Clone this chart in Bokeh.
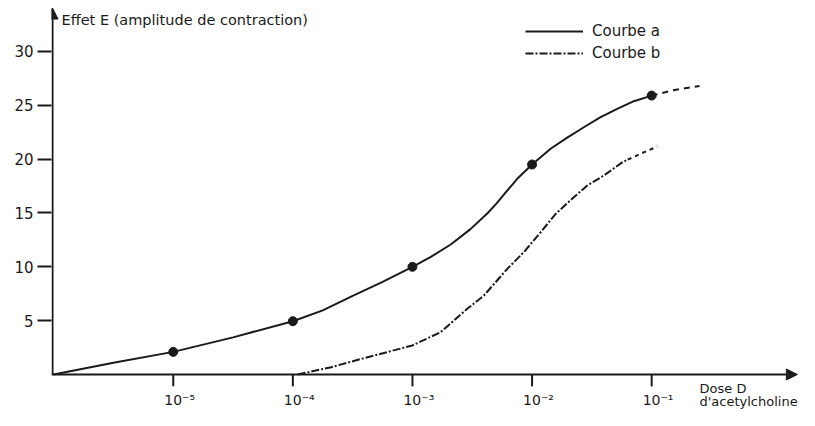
from bokeh.plotting import figure
from bokeh.models import Range1d, FixedTicker, Arrow, NormalHead, Label, Legend, LegendItem
from bokeh.core.properties import value
from bokeh.embed import file_html
from bokeh.resources import INLINE

# x = log10(dose)
a_x = [-6, -5.5, -5, -4.5, -4, -3.75, -3.5, -3.25, -3, -2.85, -2.68, -2.515, -2.375, -2.3, -2.236, -2.124, -2,
       -1.845, -1.706, -1.567, -1.427, -1.288, -1.149, -1]
a_y = [0, 1.1, 2.1, 3.45, 4.95, 5.95, 7.3, 8.6, 10.0, 10.9, 12.07, 13.5, 14.95, 15.85, 16.7, 18.17, 19.5,
       20.96, 22.0, 22.96, 23.9, 24.67, 25.38, 25.9]
a_tail_x = [-1, -0.82, -0.6]
a_tail_y = [25.9, 26.4, 26.8]
a_pts_x = [-5, -4, -3, -2, -1]
a_pts_y = [2.1, 4.95, 10.0, 19.5, 25.9]

b_x = [-3.96, -3.68, -3.41, -3.0, -2.765, -2.542, -2.403, -2.207, -2.069, -1.929, -1.804, -1.651,
       -1.538, -1.40, -1.246, -1.2]
b_y = [0, 0.68, 1.5, 2.7, 3.93, 6.1, 7.33, 9.81, 11.36, 13.2, 14.9, 16.46, 17.55, 18.48, 19.7, 19.95]
b_tail_x = [-1.2, -1.093, -0.953]
b_tail_y = [19.95, 20.5, 21.17]

x_ticks = [-5, -4, -3, -2, -1]
x_tick_labels = ["10⁻⁵", "10⁻⁴", "10⁻³", "10⁻²", "10⁻¹"]
y_ticks = [5, 10, 15, 20, 25, 30]

FONT = "DejaVu Sans"
INK = "#1a1a1a"

X0, X1 = -6.018, 0.236   # frame spans the plot to the right edge of the canvas
Y0, Y1 = -3.343, 34.08   # frame extends below the x axis so its labels stay visible
X_AXIS_END = 0.218
Y_AXIS_X = -6.0095

p = figure(width=799, height=410, x_range=Range1d(X0, X1), y_range=Range1d(Y0, Y1),
           output_backend="svg", toolbar_location=None,
           min_border_left=51, min_border_right=0, min_border_top=7, min_border_bottom=0)
p.outline_line_color = None
p.grid.visible = False
p.background_fill_color = "white"
p.xaxis.visible = False

ya = p.yaxis[0]
ya.ticker = FixedTicker(ticks=y_ticks)
ya.axis_line_color = None
ya.major_tick_line_width = 2
ya.major_tick_line_color = INK
ya.minor_tick_line_color = None
ya.major_tick_in = 0
ya.major_tick_out = 14
ya.major_label_standoff = 4
ya.major_label_text_font = FONT
ya.major_label_text_font_size = "15px"
ya.major_label_text_color = INK

# axes with arrow heads
p.add_layout(Arrow(end=NormalHead(size=11, fill_color=INK, line_color=INK), line_color=INK, line_width=2,
                   x_start=X0, y_start=0, x_end=X_AXIS_END, y_end=0))
p.add_layout(Arrow(end=NormalHead(size=11, fill_color=INK, line_color=INK), line_color=INK, line_width=2,
                   x_start=Y_AXIS_X, y_start=0, x_end=Y_AXIS_X, y_end=Y1 - 0.05))

# x ticks and their labels
p.segment(x0=x_ticks, y0=[0] * len(x_ticks), x1=x_ticks, y1=[-1.1] * len(x_ticks),
          line_color=INK, line_width=2)
p.text(x=x_ticks, y=[-2.4] * len(x_ticks), text=x_tick_labels, text_font=value(FONT),
       text_font_size="14px", text_color=INK, text_align="left", text_baseline="middle", x_offset=-9)

ra = p.line(a_x, a_y, line_color=INK, line_width=2)
p.line(a_tail_x, a_tail_y, line_color=INK, line_width=2, line_dash="6 5")
p.scatter(a_pts_x, a_pts_y, size=9, fill_color=INK, line_color=INK)
rb = p.line(b_x, b_y, line_color=INK, line_width=2, line_dash="8 2 2 2")
p.line(b_tail_x, b_tail_y, line_color=INK, line_width=2, line_dash="4 4")

legend = Legend(items=[LegendItem(label="Courbe a", renderers=[ra]),
                       LegendItem(label="Courbe b", renderers=[rb])],
                location=(474, 347), orientation="vertical",
                glyph_width=58, glyph_height=20, label_height=20, label_standoff=9, spacing=2,
                padding=0, margin=0, border_line_color=None, background_fill_alpha=0,
                label_text_font=FONT, label_text_font_size="15px", label_text_color=INK)
p.add_layout(legend)

p.add_layout(Label(x=-5.934, y=32.96, text="Effet E (amplitude de contraction)", text_font=FONT,
                   text_font_size="14.5px", text_color=INK, text_baseline="middle"))
p.add_layout(Label(x=-0.6, y=-1.3, text="Dose D", text_font=FONT,
                   text_font_size="13px", text_color=INK, text_baseline="middle"))
p.add_layout(Label(x=-0.6, y=-2.5, text="d'acetylcholine", text_font=FONT,
                   text_font_size="13px", text_color=INK, text_baseline="middle"))

open("out.html", "w").write(file_html(p, INLINE))
